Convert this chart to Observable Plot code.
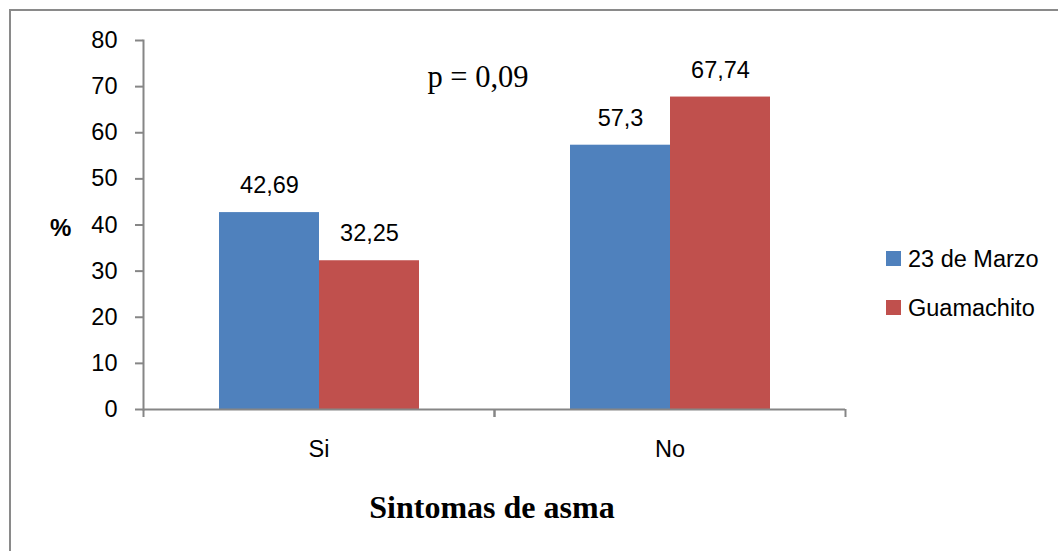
<!DOCTYPE html>
<html>
<head>
<meta charset="utf-8">
<script src="https://cdn.jsdelivr.net/npm/d3@7"></script>
<script src="https://cdn.jsdelivr.net/npm/@observablehq/plot@0.6"></script>
<style>
  html, body { margin: 0; padding: 0; background: #fff; }
  #wrap { position: relative; width: 1058px; height: 551px; overflow: hidden; background: #fff; }
  #border { position: absolute; left: 9px; top: 9px; width: 1100px; height: 600px; border: 2px solid #8a8a8a; box-sizing: border-box; }
  .abs { position: absolute; white-space: nowrap; color: #000; }
  .sans { font-family: "Liberation Sans", Arial, sans-serif; }
  .serif { font-family: "Liberation Serif", "Times New Roman", serif; }
  #chart { position: absolute; left: 0; top: 0; }
</style>
</head>
<body>
<div id="wrap">
  <div id="border"></div>
  <div id="chart"></div>
</div>
<script>
// ---- data ----
const categories = ["Si", "No"];
const series = ["23 de Marzo", "Guamachito"];
const values23 = [42.69, 57.3];
const valuesGua = [32.25, 67.74];
const yTicks = [0, 10, 20, 30, 40, 50, 60, 70, 80];
const colors = ["#4F81BD", "#C0504D"];
const pLabel = "p = 0,09";
const yLabel = "%";
const xTitle = "Sintomas de asma";

const data = [];
categories.forEach((c, i) => {
  data.push({cat: c, series: series[0], value: values23[i]});
  data.push({cat: c, series: series[1], value: valuesGua[i]});
});
const fmt = v => String(v).replace(".", ",");

const W = 1058, H = 551;
const mL = 143, mR = 213, mT = 40, mB = 142;
const half = (W - mL - mR) / categories.length / 2;
const axisGray = "#868686";

const chart = Plot.plot({
  width: W, height: H,
  marginLeft: mL, marginRight: mR, marginTop: mT, marginBottom: mB,
  style: {fontFamily: "'Liberation Sans', Arial, sans-serif", fontSize: "23px", background: "transparent", overflow: "visible"},
  fx: {domain: categories, padding: 0, axis: null, label: null},
  x: {domain: series, paddingInner: 0, paddingOuter: 0.755, axis: null, label: null},
  y: {domain: [0, 80], axis: null, label: null},
  color: {domain: series, range: colors},
  marks: [
    Plot.barY(data, {fx: "cat", x: "series", y: "value", fill: "series"}),
    Plot.text(data, {fx: "cat", x: "series", y: "value", text: d => fmt(d.value), dy: -27, fontSize: 23.5, fill: "#000"}),
    Plot.ruleY([0], {stroke: axisGray, strokeWidth: 2}),
    Plot.frame({anchor: "left", facetAnchor: "left", stroke: axisGray, strokeWidth: 2}),
    Plot.axisY(yTicks, {tickSize: 8, tickPadding: 18, stroke: axisGray, strokeWidth: 2, fontSize: 23.5, label: null}),
    Plot.axisFx({anchor: "bottom", tickSize: 0, tickPadding: 31, fontSize: 23.5, label: null}),
    Plot.axisFx({anchor: "bottom", tickSize: 8, dx: -half, tickFormat: null, stroke: axisGray, strokeWidth: 2, label: null}),
    Plot.axisFx([categories[categories.length - 1]], {anchor: "bottom", tickSize: 8, dx: half, tickFormat: null, stroke: axisGray, strokeWidth: 2, label: null})
  ]
});
document.getElementById("chart").appendChild(chart);

const wrap = document.getElementById("wrap");
function addText(txt, cls, css) {
  const d = document.createElement("div");
  d.className = "abs " + cls;
  d.textContent = txt;
  Object.assign(d.style, css);
  wrap.appendChild(d);
  return d;
}
// p-value annotation
addText(pLabel, "serif", {left: "478px", top: "62px", fontSize: "30.5px", lineHeight: "30px", transform: "translateX(-50%)"});
// y label
addText(yLabel, "sans", {left: "50px", top: "216px", fontSize: "24px", lineHeight: "24px", fontWeight: "bold"});
// x title
addText(xTitle, "serif", {left: "492px", top: "491px", fontSize: "32px", lineHeight: "32px", fontWeight: "bold", transform: "translateX(-50%)"});
// legend
const legTops = [247.5, 296.5];
series.forEach((s, i) => {
  const sw = document.createElement("div");
  Object.assign(sw.style, {position: "absolute", left: "886px", top: (legTops[i] + 3.5) + "px", width: "15px", height: "15px", background: colors[i]});
  wrap.appendChild(sw);
  addText(s, "sans", {left: "908px", top: legTops[i] + "px", fontSize: "23.5px", lineHeight: "23px"});
});
</script>
</body>
</html>
